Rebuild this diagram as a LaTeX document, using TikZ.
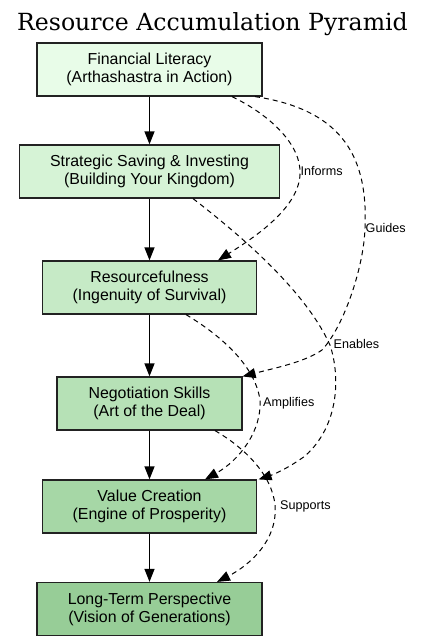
\documentclass[tikz,border=0pt]{standalone}
\usepackage{fontspec}
\setmainfont{Liberation Sans}
\newfontfamily\titlefont{DejaVu Serif}
\usetikzlibrary{arrows.meta}
\definecolor{c1}{HTML}{E8FCE8}
\definecolor{c2}{HTML}{D6F3D6}
\definecolor{c3}{HTML}{C6EAC6}
\definecolor{c4}{HTML}{B6E1B6}
\definecolor{c5}{HTML}{A6D7A6}
\definecolor{c6}{HTML}{97CD97}
\definecolor{edgegray}{HTML}{222222}
\begin{document}
\begin{tikzpicture}[x=1pt,y=-1pt,
  box/.style={draw=edgegray, line width=1.2pt, inner sep=0pt, minimum height=53pt, align=center,
    font=\fontsize{15.9}{18}\selectfont},
  solidedge/.style={draw=black, line width=1.2pt, -{Triangle[length=13pt,width=10pt]}},
  dashedge/.style={draw=black, line width=1pt, dash pattern=on 5pt off 4pt, -{Triangle[length=13pt,width=10pt]}},
  elabel/.style={anchor=west, inner sep=0pt, font=\fontsize{12.6}{14}\selectfont}]
\useasboundingbox (0,0) rectangle (425,641);
\node[font=\titlefont\fontsize{23.6}{28}\selectfont, anchor=base] (title) at (212.5,30) {Resource Accumulation Pyramid};
\node[box, fill=c1, minimum width=225pt] (b1) at (149.5,69.5) {Financial Literacy\\(Arthashastra in Action)};
\node[box, fill=c2, minimum width=260pt] (b2) at (149.5,171.5) {Strategic Saving \& Investing\\(Building Your Kingdom)};
\node[box, fill=c3, minimum width=214pt] (b3) at (149.5,287.5) {Resourcefulness\\(Ingenuity of Survival)};
\node[box, fill=c4, minimum width=185pt] (b4) at (149.5,403.5) {Negotiation Skills\\(Art of the Deal)};
\node[box, fill=c5, minimum width=214pt] (b5) at (149.5,506.5) {Value Creation\\(Engine of Prosperity)};
\node[box, fill=c6, minimum width=225pt] (b6) at (149.5,609) {Long-Term Perspective\\(Vision of Generations)};
\draw[solidedge] (b1) -- (b2);
\draw[solidedge] (b2) -- (b3);
\draw[solidedge] (b3) -- (b4);
\draw[solidedge] (b4) -- (b5);
\draw[solidedge] (b5) -- (b6);
% Informs
\draw[dashedge] ([xshift=82.5pt]b1.south) .. controls (270,115) and (302,145) .. (300,175)
  .. controls (298,210) and (250,240) .. ([xshift=68.5pt]b3.north);
% Guides
\draw[dashedge] ([xshift=105.5pt]b1.south) .. controls (345,110) and (368,160) .. (365,228)
  .. controls (364,265) and (345,325) .. (322,350)
  .. controls (305,362) and (275,368) .. (b4.north east);
% Enables
\draw[dashedge] ([xshift=43.5pt]b2.south) .. controls (240,235) and (305,290) .. (330,345)
  .. controls (340,375) and (340,425) .. (305,456)
  .. controls (290,467) and (275,474) .. ([xshift=1.5pt]b5.north east);
% Amplifies
\draw[dashedge] ([xshift=36.5pt]b3.south) .. controls (220,335) and (255,365) .. (260,400)
  .. controls (262,430) and (240,460) .. ([xshift=55.5pt]b5.north);
% Supports
\draw[dashedge] ([xshift=65.5pt]b4.south) .. controls (245,448) and (272,475) .. (275,505)
  .. controls (278,540) and (250,565) .. ([xshift=67.5pt]b6.north);
\node[elabel] (linforms) at (300.5,171) {Informs};
\node[elabel] (lguides) at (365.5,228) {Guides};
\node[elabel] (lenables) at (333.5,344) {Enables};
\node[elabel] (lamplifies) at (263,403) {Amplifies};
\node[elabel] (lsupports) at (280,506) {Supports};
\end{tikzpicture}
\end{document}
